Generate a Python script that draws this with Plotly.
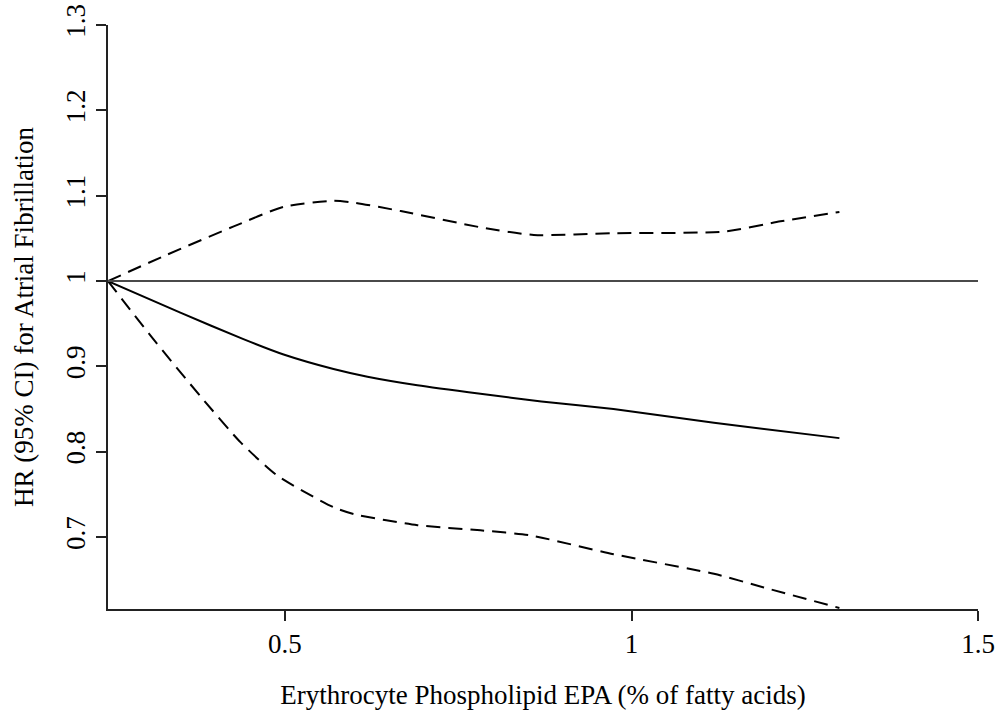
import plotly.graph_objects as go

# EPA (% of fatty acids) and hazard ratio estimates
hr_x = [0.2446, 0.349, 0.440, 0.498, 0.570, 0.619, 0.691, 0.782, 0.870, 0.974, 1.119, 1.300]
hr_y = [1.000, 0.963, 0.932, 0.914, 0.897, 0.888, 0.878, 0.868, 0.859, 0.850, 0.834, 0.816]

lo_x = [0.2446, 0.306, 0.378, 0.436, 0.489, 0.570, 0.599, 0.691, 0.782, 0.854, 0.974, 1.119, 1.191, 1.300]
lo_y = [1.000, 0.936, 0.865, 0.811, 0.772, 0.735, 0.727, 0.714, 0.708, 0.702, 0.680, 0.657, 0.641, 0.617]

hi_x = [0.2446, 0.330, 0.426, 0.498, 0.570, 0.599, 0.667, 0.782, 0.859, 0.974, 1.133, 1.215, 1.300]
hi_y = [1.000, 1.031, 1.064, 1.087, 1.094, 1.092, 1.082, 1.063, 1.054, 1.056, 1.058, 1.070, 1.081]

ref_hr = 1.0
x_ticks = [0.5, 1, 1.5]
x_tick_text = ["0.5", "1", "1.5"]
y_ticks = [0.7, 0.8, 0.9, 1.0, 1.1, 1.2, 1.3]
y_tick_text = ["0.7", "0.8", "0.9", "1", "1.1", "1.2", "1.3"]

FONT = "Liberation Serif, Times New Roman, serif"
FS = 27
dash = "14px,8px"

fig = go.Figure()
fig.add_hline(y=ref_hr, line=dict(color="#4a4a4a", width=2))
fig.add_trace(go.Scatter(x=hi_x, y=hi_y, mode="lines", line=dict(color="black", width=2, dash=dash, shape="spline", smoothing=0.6)))
fig.add_trace(go.Scatter(x=hr_x, y=hr_y, mode="lines", line=dict(color="black", width=2, shape="spline", smoothing=0.6)))
fig.add_trace(go.Scatter(x=lo_x, y=lo_y, mode="lines", line=dict(color="black", width=2, dash=dash, shape="spline", smoothing=0.6)))

fig.update_layout(
    width=998, height=710,
    margin=dict(l=108, r=20, t=25, b=101),
    paper_bgcolor="white", plot_bgcolor="white",
    showlegend=False,
    font=dict(family=FONT, size=FS, color="black"),
    xaxis=dict(
        range=[0.2446, 1.5], showgrid=False, zeroline=False, automargin=False,
        showline=True, linecolor="#222", linewidth=1.5,
        ticks="outside", ticklen=10, tickwidth=1.5, tickcolor="#222",
        tickvals=x_ticks, ticktext=x_tick_text,
        tickfont=dict(family=FONT, size=FS, color="black"),
        title=dict(text="Erythrocyte Phospholipid EPA (% of fatty acids)", standoff=30,
                   font=dict(family=FONT, size=FS, color="black")),
    ),
    yaxis=dict(
        range=[0.6158, 1.3], showgrid=False, zeroline=False, automargin=False,
        showline=True, linecolor="#222", linewidth=1.5,
        ticks="outside", ticklen=10, tickwidth=1.5, tickcolor="#222",
        tickvals=y_ticks, ticktext=y_tick_text, tickangle=-90,
        tickfont=dict(family=FONT, size=FS, color="black"),
        title=dict(text="HR (95% CI) for Atrial Fibrillation", standoff=20,
                   font=dict(family=FONT, size=FS, color="black")),
    ),
)

fig.write_html("out.html")
